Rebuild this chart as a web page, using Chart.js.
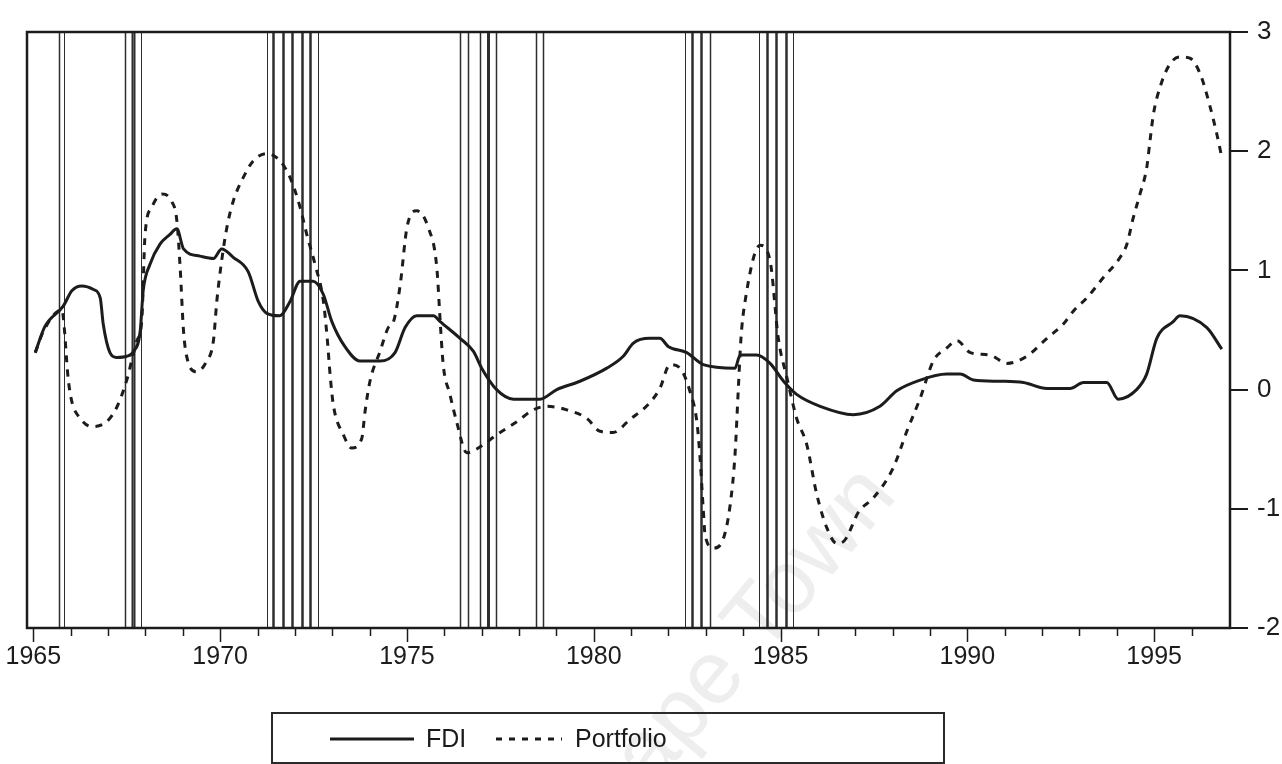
<!DOCTYPE html>
<html>
<head>
<meta charset="utf-8">
<script src="https://cdn.jsdelivr.net/npm/chart.js@4.4.1/dist/chart.umd.min.js"></script>
<style>
  html, body { margin: 0; padding: 0; background: #fff; }
  #wrap { position: relative; width: 1282px; height: 764px; overflow: hidden; }
  #mark { position: absolute; left: 0; top: 0; }
  #chart { position: absolute; left: 0; top: 0; }
  #legend {
    position: absolute; left: 271px; top: 712px; width: 674px; height: 52px;
    border: 2px solid #2a2a2a; box-sizing: border-box;
    font-family: "Liberation Sans", Arial, sans-serif;
    font-size: 25px; color: #1a1a1a;
  }
  #legend svg { position: absolute; left: 0; top: 0; }
  #legend span { position: absolute; top: 9px; line-height: 30px; }
</style>
</head>
<body>
<div id="wrap">
  <svg id="mark" width="1282" height="764">
    <text x="610" y="840" transform="rotate(-50 610 840)" font-family="Liberation Sans, Arial, sans-serif"
          font-size="90" fill="#eeeeee">Cape Town</text>
  </svg>
  <canvas id="chart" width="1282" height="764"></canvas>
  <div id="legend">
    <svg width="674" height="52">
      <line x1="57" y1="25" x2="141" y2="25" stroke="#1a1a1a" stroke-width="3"/>
      <line x1="223" y1="25" x2="289" y2="25" stroke="#1a1a1a" stroke-width="3" stroke-dasharray="6 7"/>
    </svg>
    <span style="left:153px">FDI</span>
    <span style="left:302px">Portfolio</span>
  </div>
</div>
<script>
// FDI (solid) - dates in decimal years
const fdiYears = [1965.05, 1965.31, 1965.80, 1966.03, 1966.30, 1966.61, 1966.79, 1966.87, 1967.05, 1967.23,
  1967.50, 1967.68, 1967.86, 1967.94, 1968.12, 1968.39, 1968.65, 1968.84, 1969.02, 1969.46,
  1969.82, 1970.04, 1970.35, 1970.75, 1971.02, 1971.25, 1971.60, 1971.87, 1972.14, 1972.49,
  1972.76, 1972.99, 1973.34, 1973.74, 1974.28, 1974.68, 1974.95, 1975.26, 1975.71, 1975.89,
  1976.42, 1976.78, 1977.00, 1977.40, 1977.85, 1978.56, 1979.01, 1979.63, 1980.35, 1980.79,
  1981.06, 1981.50, 1981.77, 1982.00, 1982.49, 1982.93, 1983.78, 1983.92, 1984.36, 1984.72,
  1985.08, 1985.43, 1986.06, 1986.95, 1987.66, 1988.11, 1988.74, 1989.45, 1989.81, 1990.16,
  1990.87, 1991.50, 1992.13, 1992.75, 1993.11, 1993.73, 1994.04, 1994.53, 1994.80, 1995.07,
  1995.51, 1995.69, 1996.41, 1996.81];
const fdiValues = [0.31, 0.53, 0.70, 0.83, 0.87, 0.84, 0.77, 0.55, 0.31, 0.27,
  0.28, 0.32, 0.49, 0.83, 1.05, 1.22, 1.30, 1.35, 1.18, 1.12,
  1.10, 1.18, 1.11, 0.99, 0.74, 0.64, 0.62, 0.74, 0.91, 0.91,
  0.80, 0.57, 0.36, 0.24, 0.24, 0.31, 0.52, 0.62, 0.62, 0.57,
  0.43, 0.32, 0.18, 0.00, -0.08, -0.08, 0.00, 0.07, 0.18, 0.28,
  0.39, 0.43, 0.43, 0.36, 0.31, 0.21, 0.18, 0.29, 0.29, 0.22,
  0.07, -0.04, -0.14, -0.21, -0.14, -0.01, 0.08, 0.13, 0.13, 0.08,
  0.07, 0.06, 0.01, 0.01, 0.06, 0.06, -0.08, 0.00, 0.13, 0.43,
  0.57, 0.62, 0.52, 0.34];

// Portfolio (dashed)
const portYears = [1965.05, 1965.27, 1965.76, 1965.94, 1966.03, 1966.25, 1966.56, 1966.96, 1967.23, 1967.50,
  1967.63, 1967.77, 1967.90, 1967.99, 1968.17, 1968.44, 1968.70, 1968.84, 1968.93, 1969.02,
  1969.11, 1969.37, 1969.64, 1969.82, 1969.91, 1970.04, 1970.18, 1970.35, 1970.62, 1970.89,
  1971.25, 1971.60, 1971.87, 1972.14, 1972.32, 1972.54, 1972.76, 1972.86, 1972.95, 1973.03,
  1973.30, 1973.52, 1973.79, 1973.88, 1974.01, 1974.28, 1974.50, 1974.64, 1974.82, 1975.00,
  1975.26, 1975.57, 1975.80, 1975.89, 1975.97, 1976.15, 1976.33, 1976.60, 1976.91, 1977.40,
  1977.94, 1978.38, 1978.74, 1979.28, 1979.81, 1980.17, 1980.52, 1980.97, 1981.50, 1981.77,
  1982.04, 1982.31, 1982.57, 1982.76, 1982.84, 1982.93, 1982.98, 1983.20, 1983.47, 1983.65,
  1983.78, 1983.87, 1983.94, 1984.05, 1984.45, 1984.72, 1984.94, 1985.17, 1985.43, 1985.70,
  1985.97, 1986.24, 1986.50, 1986.70, 1987.10, 1987.48, 1988.01, 1988.38, 1988.74, 1989.09,
  1989.45, 1989.72, 1990.08, 1990.61, 1991.06, 1991.59, 1992.13, 1992.57, 1992.84, 1993.20,
  1993.64, 1994.09, 1994.27, 1994.44, 1994.62, 1994.80, 1994.89, 1994.98, 1995.16, 1995.42,
  1995.69, 1995.96, 1996.23, 1996.50, 1996.68, 1996.81];
const portValues = [0.31, 0.49, 0.67, 0.07, -0.10, -0.24, -0.31, -0.27, -0.15, 0.08,
  0.24, 0.41, 0.57, 1.30, 1.53, 1.64, 1.58, 1.42, 1.02, 0.49,
  0.27, 0.15, 0.24, 0.41, 0.74, 1.08, 1.36, 1.58, 1.78, 1.92,
  1.98, 1.92, 1.78, 1.53, 1.30, 1.05, 0.75, 0.45, 0.10, -0.13,
  -0.38, -0.49, -0.41, -0.18, 0.07, 0.32, 0.52, 0.57, 0.88, 1.36,
  1.50, 1.36, 1.02, 0.57, 0.21, -0.04, -0.27, -0.53, -0.49, -0.38,
  -0.27, -0.17, -0.14, -0.17, -0.24, -0.35, -0.36, -0.25, -0.11, 0.01,
  0.21, 0.18, -0.01, -0.27, -0.55, -1.00, -1.22, -1.33, -1.25, -0.97,
  -0.55, 0.01, 0.43, 0.74, 1.21, 1.08, 0.43, 0.10, -0.24, -0.46,
  -0.88, -1.16, -1.29, -1.27, -1.02, -0.91, -0.66, -0.35, -0.07, 0.24,
  0.35, 0.41, 0.31, 0.29, 0.22, 0.28, 0.43, 0.55, 0.66, 0.77,
  0.94, 1.11, 1.22, 1.44, 1.64, 1.86, 2.09, 2.31, 2.54, 2.73,
  2.79, 2.78, 2.65, 2.37, 2.14, 1.95];

// shaded-event vertical lines: date and line width
const eventYears = [1965.69, 1965.83, 1967.45, 1967.64, 1967.70, 1967.87,
  1971.25, 1971.42, 1971.69, 1971.93, 1972.18, 1972.41, 1972.63,
  1976.42, 1976.64, 1976.96, 1977.18, 1977.38, 1978.45, 1978.63,
  1982.44, 1982.62, 1982.87, 1983.11, 1984.43, 1984.63, 1984.88, 1985.15, 1985.34];
const eventWidths = [1.5, 1, 1.5, 2, 2, 1,
  1, 2.5, 2.5, 2.5, 2.5, 2.5, 1,
  1.5, 1.5, 1.5, 3, 1.5, 1.5, 1.5,
  1, 2.5, 2.5, 1.5, 1, 2.5, 2.5, 2.5, 1];

const yearTicks = [];
for (let y = 1965; y <= 1996; y++) yearTicks.push(y);

const sans = "Liberation Sans, Arial, sans-serif";
const ink = "#1c1c1c";

const framePlugin = {
  id: "frame",
  beforeDatasetsDraw(chart) {
    const c = chart.ctx, a = chart.chartArea, xs = chart.scales.x;
    c.save();
    c.strokeStyle = "#2e2e2e";
    eventYears.forEach((yr, i) => {
      const x = Math.round(xs.getPixelForValue(yr)) + 0.5;
      c.lineWidth = eventWidths[i];
      c.beginPath();
      c.moveTo(x, a.top);
      c.lineTo(x, a.bottom);
      c.stroke();
    });
    c.restore();
  },
  afterDraw(chart) {
    const c = chart.ctx, a = chart.chartArea, xs = chart.scales.x;
    c.save();
    c.strokeStyle = ink;
    c.lineWidth = 2.5;
    c.strokeRect(a.left, a.top, a.right - a.left, a.bottom - a.top);
    c.lineWidth = 1.5;
    yearTicks.forEach(yr => {
      const x = Math.round(xs.getPixelForValue(yr)) + 0.5;
      c.beginPath();
      c.moveTo(x, a.bottom);
      c.lineTo(x, a.bottom + (yr % 5 === 0 ? 14 : 8));
      c.stroke();
    });
    c.restore();
  }
};

new Chart(document.getElementById("chart"), {
  type: "line",
  data: {
    datasets: [{
      label: "FDI",
      data: fdiYears.map((x, i) => ({ x: x, y: fdiValues[i] })),
      borderColor: ink,
      borderWidth: 3,
      pointRadius: 0,
      cubicInterpolationMode: "monotone",
      fill: false
    }, {
      label: "Portfolio",
      data: portYears.map((x, i) => ({ x: x, y: portValues[i] })),
      borderColor: ink,
      borderWidth: 3,
      borderDash: [7, 7],
      pointRadius: 0,
      cubicInterpolationMode: "monotone",
      fill: false
    }]
  },
  options: {
    responsive: false,
    animation: false,
    devicePixelRatio: 1,
    layout: { padding: { left: 27, top: 32, right: 0, bottom: 0 } },
    plugins: {
      legend: { display: false },
      tooltip: { enabled: false }
    },
    scales: {
      x: {
        type: "linear",
        min: 1964.83,
        max: 1997.03,
        afterBuildTicks: s => { s.ticks = yearTicks.map(v => ({ value: v })); },
        afterFit: s => { s.height = 136; s.paddingLeft = 0; s.paddingRight = 0; },
        grid: { display: false, drawTicks: false },
        border: { display: false },
        ticks: {
          autoSkip: false,
          maxRotation: 0,
          padding: 14,
          color: ink,
          font: { family: sans, size: 25 },
          callback: v => (v % 5 === 0 ? String(v) : "")
        }
      },
      y: {
        position: "right",
        min: -2,
        max: 3,
        afterFit: s => { s.width = 52; },
        grid: { drawOnChartArea: false, tickLength: 18, color: ink, lineWidth: 2 },
        border: { display: false },
        ticks: {
          stepSize: 1,
          padding: 9,
          color: ink,
          font: { family: sans, size: 26 }
        }
      }
    }
  },
  plugins: [framePlugin]
});
</script>
</body>
</html>
